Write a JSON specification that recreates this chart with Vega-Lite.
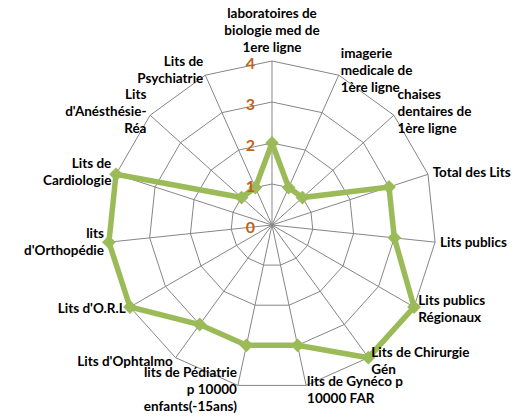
{
  "$schema": "https://vega.github.io/schema/vega-lite/v6.json",
  "width": 520,
  "height": 418,
  "autosize": {"type": "none"},
  "padding": 0,
  "background": "white",
  "config": {"view": {"stroke": null}},
  "datasets": {
    "series": [
      {"k": 0, "axe": "laboratoires de\nbiologie med de\n1ere ligne", "valeur": 2},
      {"k": 1, "axe": "imagerie\nmedicale de\n1ère  ligne", "valeur": 1},
      {"k": 2, "axe": "chaises\ndentaires de\n1ère ligne", "valeur": 1},
      {"k": 3, "axe": "Total des Lits", "valeur": 3},
      {"k": 4, "axe": "Lits publics", "valeur": 3},
      {"k": 5, "axe": "Lits publics\nRégionaux", "valeur": 4},
      {"k": 6, "axe": "Lits de Chirurgie\nGén", "valeur": 4},
      {"k": 7, "axe": "lits de Gynéco p\n10000 FAR", "valeur": 3},
      {"k": 8, "axe": "lits de Pédiatrie\np 10000\nenfants(-15ans)", "valeur": 3},
      {"k": 9, "axe": "Lits d'Ophtalmo", "valeur": 3},
      {"k": 10, "axe": "Lits d'O.R.L", "valeur": 4},
      {"k": 11, "axe": "lits\nd'Orthopédie", "valeur": 4},
      {"k": 12, "axe": "Lits de\nCardiologie", "valeur": 4},
      {"k": 13, "axe": "Lits\nd'Anésthésie-\nRéa", "valeur": 1},
      {"k": 14, "axe": "Lits de\nPsychiatrie", "valeur": 1}
    ],
    "grid": [
      {"k": 0, "rings": [1, 2, 3, 4]},
      {"k": 1, "rings": [1, 2, 3, 4]},
      {"k": 2, "rings": [1, 2, 3, 4]},
      {"k": 3, "rings": [1, 2, 3, 4]},
      {"k": 4, "rings": [1, 2, 3, 4]},
      {"k": 5, "rings": [1, 2, 3, 4]},
      {"k": 6, "rings": [1, 2, 3, 4]},
      {"k": 7, "rings": [1, 2, 3, 4]},
      {"k": 8, "rings": [1, 2, 3, 4]},
      {"k": 9, "rings": [1, 2, 3, 4]},
      {"k": 10, "rings": [1, 2, 3, 4]},
      {"k": 11, "rings": [1, 2, 3, 4]},
      {"k": 12, "rings": [1, 2, 3, 4]},
      {"k": 13, "rings": [1, 2, 3, 4]},
      {"k": 14, "rings": [1, 2, 3, 4]}
    ],
    "ticks": [{"t": 0}, {"t": 1}, {"t": 2}, {"t": 3}, {"t": 4}]
  },
  "layer": [
    {
      "data": {"name": "grid"},
      "transform": [
        {"flatten": ["rings"], "as": ["ring"]},
        {"calculate": "datum.ring * sin(datum.k * 2 * PI / 15)", "as": "gx"},
        {"calculate": "datum.ring * cos(datum.k * 2 * PI / 15)", "as": "gy"}
      ],
      "mark": {"type": "line", "interpolate": "linear-closed", "color": "#868686", "strokeWidth": 1},
      "encoding": {
        "x": {"field": "gx", "type": "quantitative", "scale": {"domain": [-6.6341, 6.0488], "nice": false, "zero": false}, "axis": null},
        "y": {"field": "gy", "type": "quantitative", "scale": {"domain": [-4.7073, 5.4878], "nice": false, "zero": false}, "axis": null},
        "detail": {"field": "ring", "type": "nominal"},
        "order": {"field": "k", "type": "quantitative"}
      }
    },
    {
      "data": {"name": "series"},
      "transform": [
        {"calculate": "4 * sin(datum.k * 2 * PI / 15)", "as": "sx"},
        {"calculate": "4 * cos(datum.k * 2 * PI / 15)", "as": "sy"}
      ],
      "mark": {"type": "rule", "color": "#868686", "strokeWidth": 1},
      "encoding": {
        "x": {"field": "sx", "type": "quantitative", "scale": {"domain": [-6.6341, 6.0488], "nice": false, "zero": false}, "axis": null},
        "y": {"field": "sy", "type": "quantitative", "scale": {"domain": [-4.7073, 5.4878], "nice": false, "zero": false}, "axis": null},
        "x2": {"datum": 0},
        "y2": {"datum": 0}
      }
    },
    {
      "data": {"name": "series"},
      "transform": [
        {"calculate": "datum.valeur * sin(datum.k * 2 * PI / 15)", "as": "px"},
        {"calculate": "datum.valeur * cos(datum.k * 2 * PI / 15)", "as": "py"}
      ],
      "mark": {"type": "line", "interpolate": "linear-closed", "color": "#9BBB59", "strokeWidth": 5.5, "strokeJoin": "miter"},
      "encoding": {
        "x": {"field": "px", "type": "quantitative", "scale": {"domain": [-6.6341, 6.0488], "nice": false, "zero": false}, "axis": null},
        "y": {"field": "py", "type": "quantitative", "scale": {"domain": [-4.7073, 5.4878], "nice": false, "zero": false}, "axis": null},
        "order": {"field": "k", "type": "quantitative"}
      }
    },
    {
      "data": {"name": "series"},
      "transform": [
        {"calculate": "datum.valeur * sin(datum.k * 2 * PI / 15)", "as": "px"},
        {"calculate": "datum.valeur * cos(datum.k * 2 * PI / 15)", "as": "py"}
      ],
      "mark": {"type": "point", "shape": "diamond", "filled": true, "color": "#9BBB59", "opacity": 1, "size": 190},
      "encoding": {
        "x": {"field": "px", "type": "quantitative", "scale": {"domain": [-6.6341, 6.0488], "nice": false, "zero": false}, "axis": null},
        "y": {"field": "py", "type": "quantitative", "scale": {"domain": [-4.7073, 5.4878], "nice": false, "zero": false}, "axis": null}
      }
    },
    {
      "data": {"name": "ticks"},
      "mark": {"type": "text", "align": "right", "baseline": "middle", "dx": -17, "dy": 3, "font": "Lato", "fontWeight": "bold", "fontSize": 16, "color": "#BF6318"},
      "encoding": {
        "x": {"datum": 0, "type": "quantitative", "scale": {"domain": [-6.6341, 6.0488], "nice": false, "zero": false}, "axis": null},
        "y": {"field": "t", "type": "quantitative", "scale": {"domain": [-4.7073, 5.4878], "nice": false, "zero": false}, "axis": null},
        "text": {"field": "t", "type": "quantitative"}
      }
    },
    {
      "data": {"name": "series"},
      "transform": [
        {"filter": "datum.k == 0"},
        {"calculate": "length(split(datum.axe, '\\n'))", "as": "n"},
        {"calculate": "0", "as": "lx"},
        {"calculate": "4 + (datum.n - 1) * 17 / 41", "as": "ly"}
      ],
      "mark": {"type": "text", "align": "center", "baseline": "bottom", "dy": -6, "lineBreak": "\n", "lineHeight": 17, "font": "Lato", "fontWeight": "bold", "fontSize": 13.5, "color": "black"},
      "encoding": {
        "x": {"field": "lx", "type": "quantitative", "scale": {"domain": [-6.6341, 6.0488], "nice": false, "zero": false}, "axis": null},
        "y": {"field": "ly", "type": "quantitative", "scale": {"domain": [-4.7073, 5.4878], "nice": false, "zero": false}, "axis": null},
        "text": {"field": "axe", "type": "nominal"}
      }
    },
    {
      "data": {"name": "series"},
      "transform": [
        {"filter": "datum.k >= 1 && datum.k <= 7"},
        {"calculate": "length(split(datum.axe, '\\n'))", "as": "n"},
        {"calculate": "4.12 * sin(datum.k * 2 * PI / 15)", "as": "lx"},
        {"calculate": "4.12 * cos(datum.k * 2 * PI / 15) + (datum.n - 1) * 8.5 / 41", "as": "ly"}
      ],
      "mark": {"type": "text", "align": "left", "baseline": "middle", "lineBreak": "\n", "lineHeight": 17, "font": "Lato", "fontWeight": "bold", "fontSize": 13.5, "color": "black"},
      "encoding": {
        "x": {"field": "lx", "type": "quantitative", "scale": {"domain": [-6.6341, 6.0488], "nice": false, "zero": false}, "axis": null},
        "y": {"field": "ly", "type": "quantitative", "scale": {"domain": [-4.7073, 5.4878], "nice": false, "zero": false}, "axis": null},
        "text": {"field": "axe", "type": "nominal"}
      }
    },
    {
      "data": {"name": "series"},
      "transform": [
        {"filter": "datum.k >= 8"},
        {"calculate": "length(split(datum.axe, '\\n'))", "as": "n"},
        {"calculate": "4.12 * sin(datum.k * 2 * PI / 15)", "as": "lx"},
        {"calculate": "4.12 * cos(datum.k * 2 * PI / 15) + (datum.n - 1) * 8.5 / 41", "as": "ly"}
      ],
      "mark": {"type": "text", "align": "right", "baseline": "middle", "lineBreak": "\n", "lineHeight": 17, "font": "Lato", "fontWeight": "bold", "fontSize": 13.5, "color": "black"},
      "encoding": {
        "x": {"field": "lx", "type": "quantitative", "scale": {"domain": [-6.6341, 6.0488], "nice": false, "zero": false}, "axis": null},
        "y": {"field": "ly", "type": "quantitative", "scale": {"domain": [-4.7073, 5.4878], "nice": false, "zero": false}, "axis": null},
        "text": {"field": "axe", "type": "nominal"}
      }
    }
  ]
}
